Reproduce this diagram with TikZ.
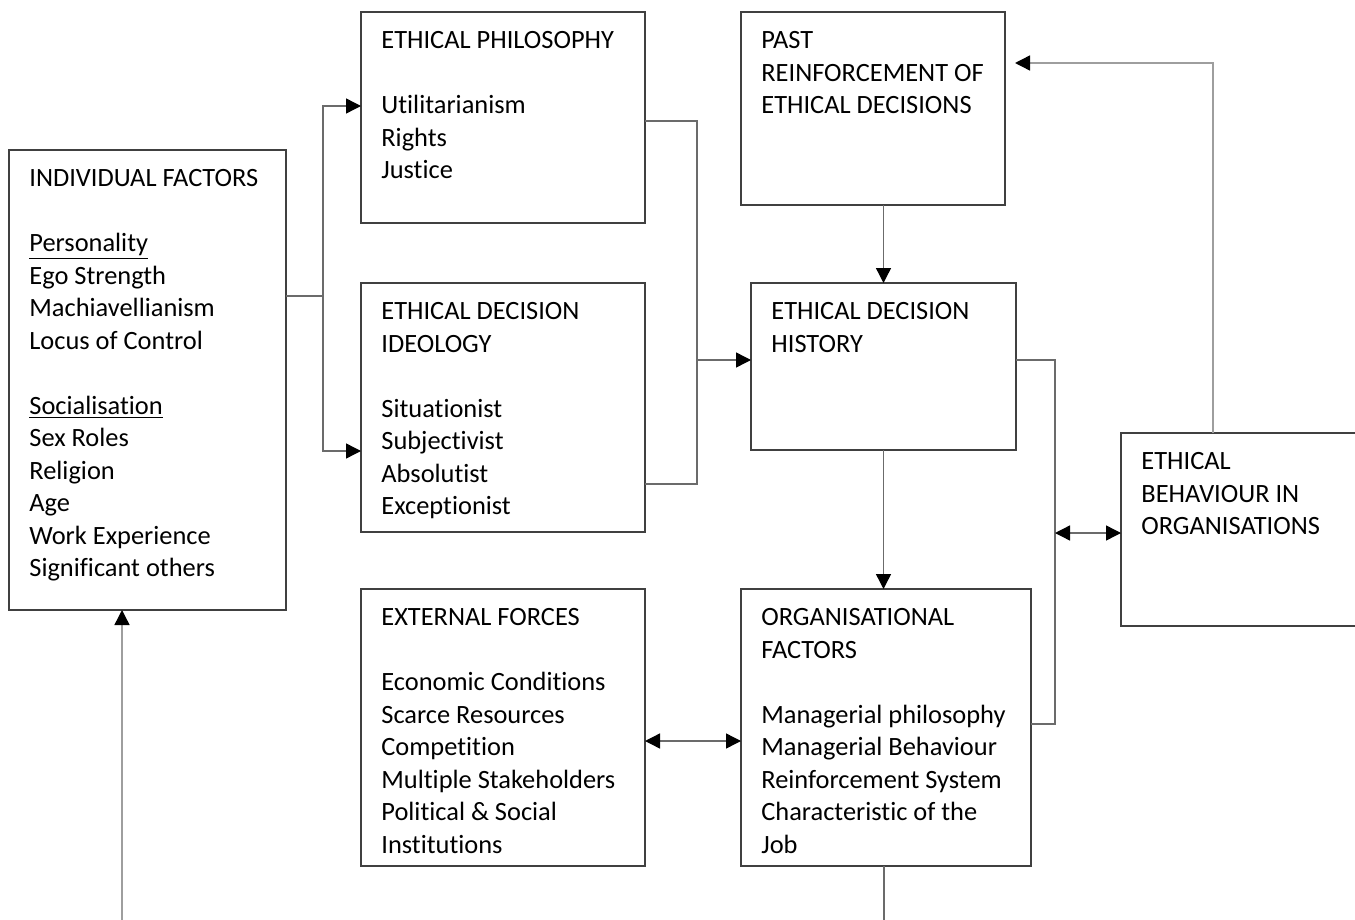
\documentclass[tikz,border=0pt]{standalone}
\usepackage{fontspec}
\setmainfont{Carlito}[RawFeature={-liga;-clig;-calt;-dlig}]
\usetikzlibrary{arrows.meta}
\begin{document}
\begin{tikzpicture}[x=0.5pt,y=-0.5pt,
  box/.style={draw=black!75,line width=0.7pt,inner sep=0pt,outer sep=0pt,anchor=north west},
  txt/.style={anchor=north west,inner sep=0pt,align=left,xshift=10pt,yshift=-6.75pt,
    font=\fontsize{13.2}{16.25}\selectfont},
  conn/.style={draw=black!58,line width=0.7pt},
  fb/.style={draw=black!38,line width=0.7pt},
  tip/.style={-{Triangle[length=7.5pt,width=7.5pt,color=black]}},
  tips/.style={{Triangle[length=7.5pt,width=7.5pt,color=black]}-{Triangle[length=7.5pt,width=7.5pt,color=black]}}]
\useasboundingbox (0,0) rectangle (1355,920);
\clip (0,0) rectangle (1355,920);
% boxes
\node[box,minimum width=138.5pt,minimum height=230pt] (ind) at (9,150) {};
\node[box,minimum width=142pt,minimum height=105.5pt] (phil) at (361,12) {};
\node[box,minimum width=142pt,minimum height=124.5pt] (ideo) at (361,283) {};
\node[box,minimum width=132pt,minimum height=96.5pt] (past) at (741,12) {};
\node[box,minimum width=132.5pt,minimum height=83.5pt] (hist) at (751,283) {};
\node[box,minimum width=125pt,minimum height=96.5pt] (beh) at (1121,433) {};
\node[box,minimum width=142pt,minimum height=138.5pt] (ext) at (361,589) {};
\node[box,minimum width=145pt,minimum height=138.5pt] (org) at (741,589) {};
% texts
\node[txt] (indt) at (ind.north west) {\strut INDIVIDUAL FACTORS\\ \mbox{}\\ \underline{Personality}\\ Ego Strength\\ Machiavellianism\\ Locus of Control\\ \mbox{}\\ \underline{Socialisation}\\ Sex Roles\\ Religion\\ Age\\ Work Experience\\ Significant others};
\node[txt] (philt) at (phil.north west) {\strut ETHICAL PHILOSOPHY\\ \mbox{}\\ Utilitarianism\\ Rights\\ Justice};
\node[txt] (ideot) at (ideo.north west) {\strut ETHICAL DECISION\\ IDEOLOGY\\ \mbox{}\\ Situationist\\ Subjectivist\\ Absolutist\\ Exceptionist};
\node[txt] (pastt) at (past.north west) {\strut PAST\\ REINFORCEMENT OF\\ ETHICAL DECISIONS};
\node[txt] (histt) at (hist.north west) {\strut ETHICAL DECISION\\ HISTORY};
\node[txt] (beht) at (beh.north west) {\strut ETHICAL\\ BEHAVIOUR IN\\ ORGANISATIONS};
\node[txt] (extt) at (ext.north west) {\strut EXTERNAL FORCES\\ \mbox{}\\ Economic Conditions\\ Scarce Resources\\ Competition\\ Multiple Stakeholders\\ Political \& Social\\ Institutions};
\node[txt] (orgt) at (org.north west) {\strut ORGANISATIONAL\\ FACTORS\\ \mbox{}\\ Managerial philosophy\\ Managerial Behaviour\\ Reinforcement System\\ Characteristic of the\\ Job};
% connectors
\coordinate (j1) at (323,296);
\draw[conn] (ind.east |- j1) -- (j1);
\draw[conn,tip] (j1) |- (phil.west |- 0,106);
\draw[conn,tip] (j1) |- (ideo.west |- 0,451);
\coordinate (j2) at (697,360);
\draw[conn] (phil.east |- 0,121) -| (j2);
\draw[conn] (ideo.east |- 0,484) -| (j2);
\draw[conn,tip] (j2) -- (hist.west |- j2);
\draw[conn,tip] (hist.north |- past.south) -- (hist.north);
\draw[conn,tip] (hist.south) -- (org.north -| hist.south);
\coordinate (j3) at (1055,533);
\coordinate (j3a) at (1055,360);
\coordinate (j3b) at (1055,724);
\draw[conn] (hist.east |- j3a) -- (j3a) -- (j3b) -- (org.east |- j3b);
\draw[conn,tips] (j3) -- (beh.west |- j3);
\coordinate (j4) at (1213,63);
\draw[fb,tip,shorten >=5pt] (beh.north -| j4) -- (j4) -- (past.east |- j4);
\draw[conn,tips] (ext.east |- 0,741) -- (org.west |- 0,741);
\coordinate (b1) at (884,920);
\draw[conn] (org.south -| b1) -- (b1);
\coordinate (b2) at (122,920);
\draw[fb,tip] (b2) -- (ind.south -| b2);
\end{tikzpicture}
\end{document}
